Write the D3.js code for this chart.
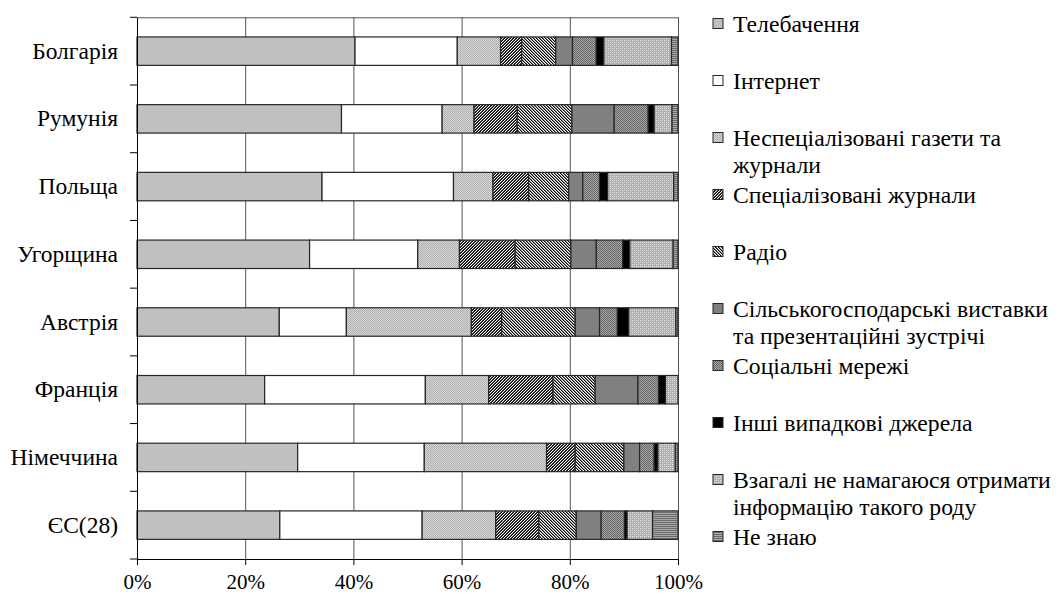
<!DOCTYPE html>
<html>
<head>
<meta charset="utf-8">
<script src="https://cdn.jsdelivr.net/npm/d3@7"></script>
<style>
  html, body { margin: 0; padding: 0; background: #fff; }
</style>
</head>
<body>
<svg id="chart" width="1060" height="593"></svg>
<script>
// Countries (top to bottom)
const categories = ["Болгарія", "Румунія", "Польща", "Угорщина", "Австрія", "Франція", "Німеччина", "ЄС(28)"];

// Information sources, in stacking order
const seriesNames = [
  "Телебачення",
  "Інтернет",
  "Неспеціалізовані газети та\nжурнали",
  "Спеціалізовані журнали",
  "Радіо",
  "Сільськогосподарські виставки\nта презентаційні зустрічі",
  "Соціальні мережі",
  "Інші випадкові джерела",
  "Взагалі не намагаюся отримати\nінформацію такого роду",
  "Не знаю"
];

// Shares, % of respondents, in the order of `categories`
const tv        = [40.3, 37.8, 34.2, 31.9, 26.3, 23.6, 29.7, 26.4];
const internet  = [18.9, 18.6, 24.3, 20.0, 12.4, 29.7, 23.4, 26.3];
const nonSpec   = [ 8.0,  5.9,  7.3,  7.7, 23.1, 11.7, 22.6, 13.6];
const spec      = [ 3.9,  8.0,  6.6, 10.3,  5.6, 11.9,  5.3,  8.0];
const radio     = [ 6.3, 10.1,  7.4, 10.3, 13.6,  7.8,  9.0,  6.9];
const fairs     = [ 3.1,  7.8,  2.6,  4.7,  4.5,  7.9,  2.9,  4.6];
const social    = [ 4.4,  6.3,  3.1,  4.9,  3.3,  3.8,  2.7,  4.3];
const other     = [ 1.4,  1.1,  1.5,  1.3,  2.1,  1.3,  0.7,  0.5];
const notTrying = [12.5,  3.3, 12.2,  8.0,  8.7,  2.3,  3.2,  4.7];
const dontKnow  = [ 1.2,  1.1,  0.8,  0.9,  0.4,  0.0,  0.5,  4.7];

const xTicks = [0, 20, 40, 60, 80, 100];

const FONT = "'Liberation Serif', 'Times New Roman', serif";

const seriesValues = [tv, internet, nonSpec, spec, radio, fairs, social, other, notTrying, dontKnow];
const keys = seriesNames.map((d, i) => "s" + i);
const rows = categories.map((c, ci) => {
  const r = { country: c };
  seriesValues.forEach((arr, si) => { r[keys[si]] = arr[ci]; });
  return r;
});

const svg = d3.select("#chart");
const margin = { left: 137, right: 678, top: 17.3, bottom: 559 };

const x = d3.scaleLinear().domain([0, 100]).range([margin.left, margin.right]);
const y = d3.scaleBand().domain(categories).range([margin.top, margin.bottom])
  .paddingInner(0.58).paddingOuter(0.29);

// ---- fill patterns ----
const defs = svg.append("defs");
function pixelPattern(id, size, bg, pixels) {
  const p = defs.append("pattern").attr("id", id).attr("patternUnits", "userSpaceOnUse")
    .attr("width", size).attr("height", size);
  p.append("rect").attr("width", size).attr("height", size).attr("fill", bg);
  pixels.forEach(([px, py, col]) => {
    p.append("rect").attr("x", px).attr("y", py).attr("width", 1).attr("height", 1)
      .attr("fill", col).attr("shape-rendering", "crispEdges");
  });
  return "url(#" + id + ")";
}
const fills = [
  "#c0c0c0",
  "#ffffff",
  pixelPattern("pNonSpec", 2, "#d9d9d9", [[0, 0, "#adadad"], [1, 1, "#adadad"]]),
  pixelPattern("pSpec", 3, "#ffffff", [[2,0,"#000"],[1,1,"#000"],[0,2,"#000"],
                                       [1,0,"#444"],[0,1,"#444"],[2,2,"#444"]]),
  pixelPattern("pRadio", 3, "#ffffff", [[0,0,"#000"],[1,1,"#000"],[2,2,"#000"],
                                        [1,0,"#888"],[2,1,"#888"],[0,2,"#888"]]),
  "#808080",
  pixelPattern("pSocial", 2, "#a6a6a6", [[0, 0, "#666"], [1, 1, "#666"]]),
  "#000000",
  pixelPattern("pNotTrying", 4, "#b0b0b0", [[0,0,"#ececec"],[2,2,"#ececec"],[2,0,"#d4d4d4"],[0,2,"#d4d4d4"]]),
  pixelPattern("pDontKnow", 2, "#a8a8a8", [[0,0,"#6c6c6c"],[1,0,"#6c6c6c"]])
];

// ---- gridlines ----
svg.append("g").selectAll("line").data(xTicks.filter(t => t > 0)).join("line")
  .attr("x1", d => x(d) + 0.5).attr("x2", d => x(d) + 0.5)
  .attr("y1", margin.top).attr("y2", margin.bottom)
  .attr("stroke", "#555").attr("stroke-width", 1);
svg.append("line")
  .attr("x1", margin.left).attr("x2", margin.right + 0.5)
  .attr("y1", margin.top + 0.5).attr("y2", margin.top + 0.5)
  .attr("stroke", "#555").attr("stroke-width", 1);

// ---- stacked bars ----
const stack = d3.stack().keys(keys);
const layers = stack(rows);
svg.append("g").selectAll("g").data(layers).join("g")
  .attr("fill", (d, i) => fills[i])
  .selectAll("rect").data(d => d).join("rect")
  .attr("x", d => x(d[0]))
  .attr("width", d => Math.max(0, x(d[1]) - x(d[0])))
  .attr("y", d => y(d.data.country))
  .attr("height", y.bandwidth())
  .attr("stroke", d => (d[1] - d[0]) > 0 ? "#262626" : "none")
  .attr("stroke-width", 1.2);

// ---- axes ----
const xAxis = d3.axisBottom(x).tickValues(xTicks).tickFormat(d => d + "%").tickSizeInner(6).tickSizeOuter(0).tickPadding(9);
const gx = svg.append("g").attr("transform", `translate(0,${margin.bottom})`).call(xAxis);
gx.select(".domain").attr("stroke", "#000");
gx.selectAll(".tick line").attr("stroke", "#000");
gx.selectAll("text").style("font-family", FONT).style("font-size", "21px").attr("fill", "#000");

const yAxis = d3.axisLeft(y).tickSize(0).tickPadding(19);
const gy = svg.append("g").attr("transform", `translate(${margin.left},0)`).call(yAxis);
gy.select(".domain").attr("stroke", "#000");
gy.selectAll("text").style("font-family", FONT).style("font-size", "23.5px").attr("fill", "#000");

// category boundary ticks on the vertical axis
const step = y.step();
const boundaries = d3.range(categories.length + 1).map(i => margin.top + i * step);
svg.append("g").selectAll("line").data(boundaries).join("line")
  .attr("x1", margin.left - 7).attr("x2", margin.left)
  .attr("y1", d => d).attr("y2", d => d)
  .attr("stroke", "#000").attr("stroke-width", 1);

// ---- legend ----
const legend = svg.append("g");
const legendTop = 23.5, legendStep = 57, lineGap = 27;
seriesNames.forEach((name, i) => {
  const cy = legendTop + i * legendStep;
  legend.append("rect")
    .attr("x", 713).attr("y", cy - 5).attr("width", 10).attr("height", 10)
    .attr("fill", fills[i]).attr("stroke", "#262626").attr("stroke-width", 1);
  const t = legend.append("text").attr("x", 733).attr("y", cy)
    .style("font-family", FONT).style("font-size", "23.7px").attr("fill", "#000");
  name.split("\n").forEach((ln, li) => {
    t.append("tspan").attr("x", 733).attr("dy", li === 0 ? "0.35em" : lineGap).text(ln);
  });
});
</script>
</body>
</html>
